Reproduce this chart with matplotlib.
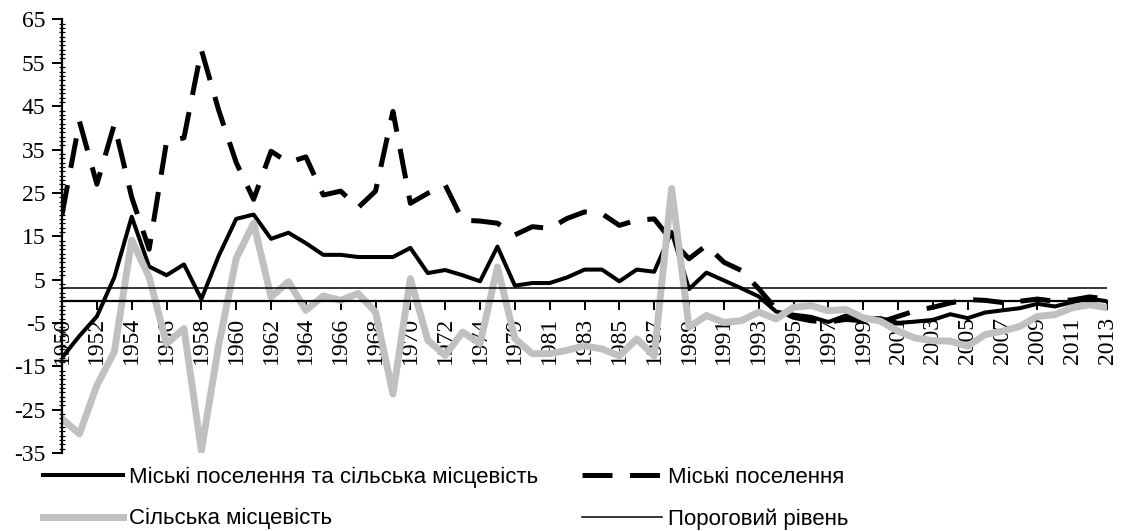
import numpy as np
import matplotlib
matplotlib.use('Agg')
import matplotlib.pyplot as plt
from matplotlib.ticker import MultipleLocator, FixedLocator

plt.rcParams['axes.unicode_minus'] = False

# роки (1976-1978 відсутні)
years = [str(y) for y in range(1950, 1976)] + [str(y) for y in range(1979, 2014)]

# Міські поселення та сільська місцевість
total = [-13, -8, -3.5, 5.5, 19.5, 8, 6, 8.5, 0.5, 10.5,
         19, 20, 14.4, 15.8, 13.4, 10.7, 10.7, 10.2, 10.2, 10.2,
         12.3, 6.5, 7.2, 6, 4.6, 12.6,
         3.6, 4.2, 4.2, 5.5, 7.3, 7.3, 4.6, 7.3, 6.8, 16,
         2.8, 6.6, 4.8, 3.0, 1.1, -2.4, -3.1, -3.6, -4.8, -3.3,
         -3.9, -3.9, -5.0, -4.7, -4.3, -3.0, -3.9, -2.6, -2.1, -1.6,
         -0.6, -1.2, -0.2, 0.6, 0.0]

# Міські поселення
urban = [20, 41.5, 27, 40.8, 24, 12, 36.8, 37.7, 58, 44,
         32, 23.5, 34.6, 32, 33.3, 24.5, 25.4, 21.6, 25.4, 43.8,
         22.6, 24.9, 26.8, 18.7, 18.5, 18,
         15.3, 17.2, 16.8, 19.1, 20.6, 20.2, 17.5, 18.7, 19.0, 14,
         9.8, 12.9, 9, 7.1, 2.9, -1.8, -3.7, -4.5, -4.8, -4.2,
         -4.5, -4.8, -3.5, -2.2, -1.4, -0.4, 0.4, 0.2, -0.3, 0.0,
         0.5, 0.0, 0.3, 1.0, 0.5]

# Сільська місцевість
rural = [-27.1, -30.6, -19.4, -11.7, 14.1, 5.6, -9.8, -6.3, -34.5, -10,
         9.9, 18.0, 1.0, 4.5, -2.1, 1.2, 0.2, 1.8, -2.5, -21.4,
         5.2, -9.0, -12.5, -7.1, -9.8, 7.9,
         -8.6, -12.1, -12.1, -11.3, -10.3, -11.0, -12.6, -8.7, -12.6, 26.0,
         -6.0, -3.3, -4.9, -4.5, -2.5, -4.1, -1.4, -1.0, -2.2, -1.9,
         -3.8, -4.6, -6.9, -8.5, -9.1, -9.2, -10.4, -7.7, -6.9, -5.8,
         -3.5, -3.1, -1.5, -0.8, -1.5]

# Пороговий рівень
threshold = 3

x = np.arange(len(years))

fig = plt.figure(figsize=(11.28, 5.31), dpi=100)
ax = fig.add_axes([0.055, 0.147, 0.9264, 0.8163])

l_total, = ax.plot(x, total, color='black', lw=2.9,
                   label='Міські поселення та сільська місцевість')
l_urban, = ax.plot(x, urban, color='black', lw=3.6, dashes=(6, 3.5),
                   label='Міські поселення')
l_rural, = ax.plot(x, rural, color='#c0c0c0', lw=5,
                   label='Сільська місцевість')
l_thr, = ax.plot(x, [threshold] * len(x), color='black', lw=1.1,
                 label='Пороговий рівень')

ax.set_xlim(0, len(years) - 1)
ax.set_ylim(-35, 65)

# осі
for s in ['top', 'right']:
    ax.spines[s].set_visible(False)
ax.spines['bottom'].set_position(('data', 0))
ax.spines['bottom'].set_linewidth(1.6)
ax.spines['left'].set_linewidth(1.6)

ax.yaxis.set_major_locator(FixedLocator(np.arange(-35, 66, 10)))
ax.yaxis.set_minor_locator(MultipleLocator(1))
ax.tick_params(axis='y', which='major', direction='out', length=7, width=1.4,
               pad=5, labelsize=17)
ax.tick_params(axis='y', which='minor', direction='inout', length=4, width=0.9)

xt = x[::2]
ax.set_xticks(xt)
ax.set_xticklabels([years[i] for i in xt], rotation=90, va='top', ha='center')
ax.tick_params(axis='x', which='major', direction='out', length=6.5, width=1.4,
               pad=5, labelsize=17)

for lab in ax.get_xticklabels() + ax.get_yticklabels():
    lab.set_family('Liberation Serif')

# легенда: порядок по рядках, як у оригіналі
handles = [l_total, l_rural, l_urban, l_thr]
fig.legend(handles=handles, labels=[h.get_label() for h in handles],
           loc='lower left', bbox_to_anchor=(0.0363, -0.002), ncol=2,
           frameon=False, prop={'family': 'Liberation Sans', 'size': 16},
           handlelength=3.6, handletextpad=0.25, columnspacing=2.0,
           labelspacing=0.92, borderpad=0.1, borderaxespad=0.0)

fig.savefig('out.png', dpi=100)
